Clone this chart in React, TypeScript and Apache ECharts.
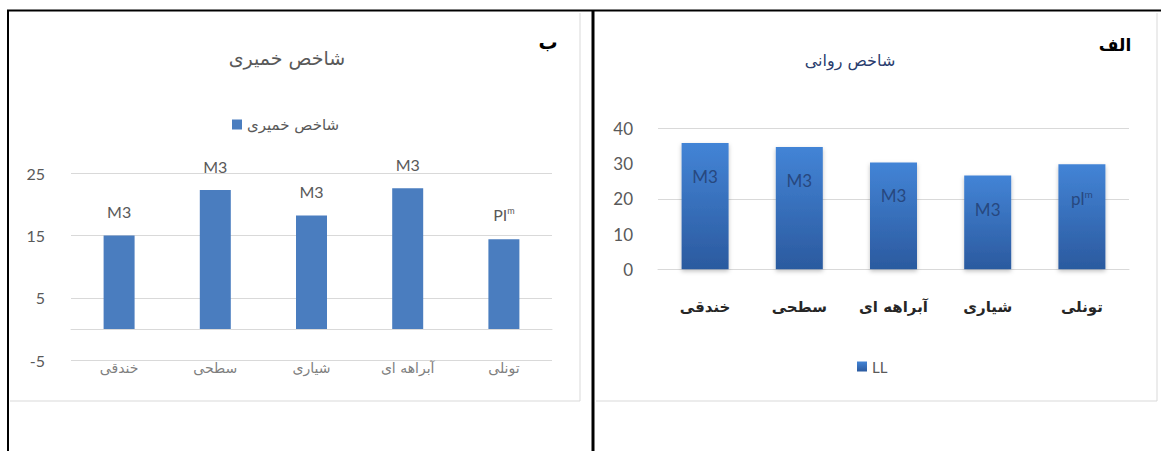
import React, { useEffect, useRef } from "react";
import * as echarts from "echarts";

// Panel "ب" — plasticity index
const categoriesPI = ["خندقی", "سطحی", "شیاری", "آبراهه ای", "تونلی"];
const valuesPI = [15.0, 22.3, 18.2, 22.6, 14.4];
const classesPI = ["M3", "M3", "M3", "M3", "PI{s|m}"];
const ticksPI = { min: -5, max: 25, interval: 10 };

// Panel "الف" — liquid limit
const categoriesLL = ["خندقی", "سطحی", "آبراهه ای", "شیاری", "تونلی"];
const valuesLL = [35.8, 34.7, 30.3, 26.6, 29.8];
const classesLL = ["M3", "M3", "M3", "M3", "pl{s|m}"];
const ticksLL = { min: 0, max: 40, interval: 10 };

const titlePI = "شاخص خمیری";
const titleLL = "شاخص روانی";
const seriesPI = "شاخص خمیری";
const seriesLL = "LL";

const FA = "'DejaVu Sans', sans-serif";
const NUM = "Lato, 'Liberation Sans', sans-serif";

export default function App() {
  const ref = useRef<HTMLDivElement>(null);
  useEffect(() => {
    if (!ref.current) return;
    const chart = echarts.init(ref.current, null, { renderer: "svg" });
    const grid = "#d9d9d9";
    chart.setOption({
      animation: false,
      backgroundColor: "#ffffff",
      grid: [
        { left: 71, right: 1161 - 552, top: 173.3, bottom: 451 - 360 },
        { left: 658, right: 1161 - 1129, top: 128.3, bottom: 451 - 269.3 },
      ],
      legend: [
        {
          data: [seriesPI],
          left: 232,
          top: 117,
          padding: 0,
          itemWidth: 10,
          itemHeight: 10,
          itemGap: 6,
          icon: "rect",
          textStyle: { color: "#595959", fontSize: 15, fontFamily: FA },
        },
        {
          data: [seriesLL],
          left: 857,
          top: 359,
          padding: 0,
          itemWidth: 10,
          itemHeight: 10,
          itemGap: 6,
          icon: "rect",
          textStyle: { color: "#595959", fontSize: 15, fontFamily: NUM },
        },
      ],
      xAxis: [
        {
          type: "category",
          gridIndex: 0,
          data: categoriesPI,
          position: "bottom",
          axisLine: { show: false, onZero: false },
          axisTick: { show: false },
          axisLabel: { margin: 1, color: "#7f7f7f", fontSize: 14, fontFamily: FA },
        },
        {
          type: "category",
          gridIndex: 0,
          data: categoriesPI,
          axisLine: { show: true, onZero: true, lineStyle: { color: grid, width: 1 } },
          axisTick: { show: false },
          axisLabel: { show: false },
        },
        {
          type: "category",
          gridIndex: 1,
          data: categoriesLL,
          axisLine: { show: true, onZero: true, lineStyle: { color: grid, width: 1 } },
          axisTick: { show: false },
          axisLabel: {
            margin: 30,
            color: "#262626",
            fontSize: 15,
            fontWeight: "bold",
            fontFamily: FA,
          },
        },
      ],
      yAxis: [
        {
          type: "value",
          gridIndex: 0,
          min: ticksPI.min,
          max: ticksPI.max,
          interval: ticksPI.interval,
          axisLine: { show: false },
          axisTick: { show: false },
          axisLabel: { margin: 26, color: "#595959", fontSize: 16, fontFamily: NUM },
          splitLine: { show: true, lineStyle: { color: grid, width: 1 } },
        },
        {
          type: "value",
          gridIndex: 1,
          position: "left",
          min: ticksLL.min,
          max: ticksLL.max,
          interval: ticksLL.interval,
          axisLine: { show: false },
          axisTick: { show: false },
          axisLabel: { margin: 25, color: "#595959", fontSize: 17, fontFamily: NUM },
          splitLine: { show: false },
        },
        {
          type: "value",
          gridIndex: 1,
          position: "left",
          min: ticksLL.min,
          max: ticksLL.max,
          interval: 20,
          axisLine: { show: false },
          axisTick: { show: false },
          axisLabel: { show: false },
          splitLine: { show: true, lineStyle: { color: grid, width: 1 } },
        },
      ],
      series: [
        {
          name: seriesPI,
          type: "bar",
          xAxisIndex: 1,
          yAxisIndex: 0,
          data: valuesPI,
          barWidth: 31,
          itemStyle: { color: "#4a7dbf" },
          label: {
            show: true,
            position: "top",
            distance: 16,
            color: "#595959",
            fontSize: 16,
            fontFamily: NUM,
            formatter: (p: any) => classesPI[p.dataIndex],
            rich: { s: { fontSize: 9, color: "#595959", padding: [0, 0, 8, 0], fontFamily: NUM } },
          },
        },
        {
          name: seriesLL,
          type: "bar",
          xAxisIndex: 2,
          yAxisIndex: 1,
          data: valuesLL,
          barWidth: 47,
          itemStyle: {
            color: new echarts.graphic.LinearGradient(0, 0, 0, 1, [
              { offset: 0, color: "#4384d6" },
              { offset: 1, color: "#2b5a9f" },
            ]),
            shadowColor: "rgba(0,0,0,0.25)",
            shadowBlur: 4,
            shadowOffsetY: 2,
          },
          label: {
            show: true,
            position: "insideTop",
            distance: 25,
            color: "#27487f",
            fontSize: 17,
            fontFamily: NUM,
            formatter: (p: any) => classesLL[p.dataIndex],
            rich: { s: { fontSize: 10, color: "#27487f", padding: [0, 0, 8, 0], fontFamily: NUM } },
          },
        },
      ],
      graphic: [
        // inner light chart boxes
        { type: "line", shape: { x1: 580, y1: 13, x2: 580, y2: 401 }, style: { stroke: "#d9d9d9", lineWidth: 1 } },
        { type: "line", shape: { x1: 10, y1: 401, x2: 580, y2: 401 }, style: { stroke: "#d9d9d9", lineWidth: 1 } },
        { type: "line", shape: { x1: 1157, y1: 13, x2: 1157, y2: 401 }, style: { stroke: "#d9d9d9", lineWidth: 1 } },
        { type: "line", shape: { x1: 596, y1: 401, x2: 1157, y2: 401 }, style: { stroke: "#d9d9d9", lineWidth: 1 } },
        // black frames
        { type: "line", shape: { x1: 7, y1: 10.5, x2: 1161, y2: 10.5 }, style: { stroke: "#000", lineWidth: 2 } },
        { type: "line", shape: { x1: 8, y1: 10, x2: 8, y2: 451 }, style: { stroke: "#000", lineWidth: 2 } },
        { type: "line", shape: { x1: 593, y1: 10, x2: 593, y2: 451 }, style: { stroke: "#000", lineWidth: 3 } },
        // panel letters
        {
          type: "text",
          x: 548,
          y: 42,
          style: { text: "ب", fontSize: 19, fontWeight: "bold", fill: "#000", fontFamily: FA, textAlign: "center", textVerticalAlign: "middle" },
        },
        {
          type: "text",
          x: 1115,
          y: 45,
          style: { text: "الف", fontSize: 17, fontWeight: "bold", fill: "#000", fontFamily: FA, textAlign: "center", textVerticalAlign: "middle" },
        },
        // chart titles
        {
          type: "text",
          x: 287,
          y: 58,
          style: { text: titlePI, fontSize: 19, fill: "#595959", fontFamily: FA, textAlign: "center", textVerticalAlign: "middle" },
        },
        {
          type: "text",
          x: 850,
          y: 60,
          style: { text: titleLL, fontSize: 16, fill: "#2a3d6e", fontFamily: FA, textAlign: "center", textVerticalAlign: "middle" },
        },
      ],
    });
    return () => chart.dispose();
  }, []);
  return (
    <div
      ref={ref}
      style={{ position: "absolute", left: 0, top: 0, width: 1161, height: 451, background: "#fff" }}
    />
  );
}
